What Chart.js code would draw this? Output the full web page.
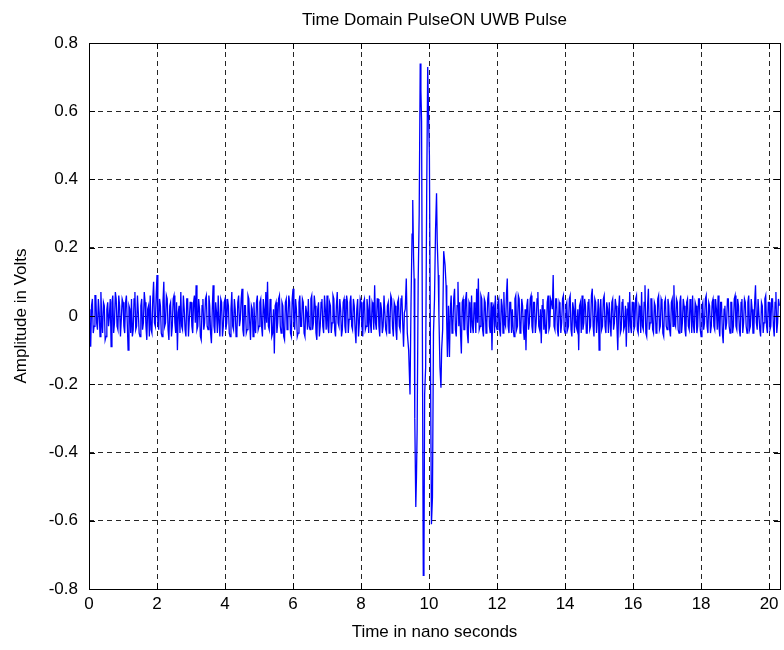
<!DOCTYPE html>
<html>
<head>
<meta charset="utf-8">
<script src="https://cdn.jsdelivr.net/npm/chart.js@4.4.1/dist/chart.umd.min.js"></script>
<style>
  html, body { margin: 0; padding: 0; background: #fff; }
  #wrap { width: 784px; height: 650px; }
</style>
</head>
<body>
<div id="wrap"><canvas id="pulse-chart" width="784" height="650"></canvas></div>
<script>
// sample spacing of the noise records (ns)
const sampleStep = 0.025;

// noise before the pulse, t = 0 .. 9.275 ns
const noiseBefore = [
  0.02, -0.04, -0.09, 0.03, 0.05, -0.05, -0.03, 0.06, 0.06, -0.02, -0.04, 0.05, 0.01, -0.06, 0.07, -0.01, -0.05, 0.04, 0.03, -0.07,
  -0.06, 0.02, 0.04, -0.03, 0.00, 0.05, -0.09, 0.04, 0.06, -0.05, -0.02, 0.07, 0.05, -0.03, -0.04, 0.06, 0.03, -0.06, -0.01, 0.05,
  0.04, -0.03, -0.05, 0.04, 0.06, -0.02, -0.10, 0.03, 0.02, -0.05, 0.05, -0.06, -0.04, 0.05, 0.07, -0.04, -0.03, 0.06, 0.01, -0.05,
  -0.06, 0.03, 0.05, -0.04, -0.02, 0.07, 0.04, -0.03, -0.07, 0.02, 0.03, -0.06, 0.06, -0.04, -0.05, 0.05, 0.10, -0.02, -0.03, 0.06,
  0.12, -0.02, -0.04, 0.05, 0.03, -0.05, -0.06, 0.04, 0.10, -0.03, -0.02, 0.06, 0.05, -0.04, -0.07, 0.03, 0.04, -0.06, -0.03, 0.05,
  0.06, -0.02, -0.05, 0.04, -0.10, 0.01, 0.03, -0.05, 0.07, -0.03, -0.04, 0.06, 0.02, -0.04, -0.06, 0.05, 0.05, -0.06, -0.01, 0.04,
  0.04, -0.03, -0.05, 0.04, 0.06, -0.02, 0.09, -0.04, -0.03, 0.05, 0.02, -0.06, -0.07, 0.03, 0.05, -0.04, -0.02, 0.05, 0.06, -0.03,
  -0.04, 0.06, 0.03, -0.05, -0.08, 0.02, 0.09, -0.03, -0.05, 0.04, 0.01, -0.05, 0.06, -0.02, -0.06, 0.05, 0.04, -0.06, -0.03, 0.04,
  0.05, -0.04, -0.02, 0.05, 0.03, -0.05, -0.06, 0.02, 0.07, -0.03, -0.04, 0.05, 0.02, -0.06, -0.05, 0.04, 0.06, -0.03, -0.01, 0.05,
  0.08, -0.04, -0.06, 0.03, 0.03, -0.05, -0.04, 0.06, 0.05, -0.02, -0.07, 0.03, 0.02, -0.06, 0.04, -0.03, -0.05, 0.04, 0.06, -0.04,
  -0.03, 0.04, 0.05, -0.03, -0.06, 0.05, 0.02, -0.04, 0.07, -0.02, 0.10, -0.03, -0.04, 0.05, 0.03, -0.06, -0.05, 0.02, -0.11, 0.03,
  0.04, -0.05, -0.02, 0.05, 0.06, -0.03, -0.05, 0.04, 0.03, -0.06, -0.07, 0.04, 0.05, -0.04, -0.01, 0.06, 0.04, -0.05, -0.06, 0.05,
  0.08, -0.02, -0.04, 0.05, 0.02, -0.06, -0.05, 0.04, 0.06, -0.03, -0.03, 0.05, 0.04, -0.05, -0.06, 0.03, 0.01, -0.04, 0.05, -0.03,
  -0.04, 0.05, 0.06, -0.04, -0.02, 0.06, 0.03, -0.05, -0.07, 0.02, 0.04, -0.06, -0.03, 0.04, 0.05, -0.03, -0.05, 0.06, 0.02, -0.04,
  0.06, -0.03, -0.05, 0.04, 0.03, -0.05, -0.02, 0.06, 0.05, -0.04, -0.06, 0.03, 0.07, -0.02, -0.03, 0.05, 0.02, -0.06, -0.04, 0.04,
  0.05, -0.03, -0.05, 0.06, 0.04, -0.05, -0.01, 0.04, 0.06, -0.03, -0.04, 0.05, 0.03, -0.04, -0.08, 0.02, 0.05, -0.06, -0.02, 0.05,
  0.04, -0.03, -0.06, 0.04, 0.05, -0.04, -0.03, 0.05, 0.02, -0.05, 0.06, -0.02, -0.05, 0.04, 0.03, -0.04, 0.09, -0.02, -0.04, 0.05,
  0.05, -0.03, -0.06, 0.04, 0.02, -0.05, -0.03, 0.06, 0.06, -0.04, -0.05, 0.03, 0.04, -0.05, -0.02, 0.06, 0.05, -0.03, -0.06, 0.04,
  0.03, -0.04, -0.07, 0.04, 0.05, -0.03, -0.04, 0.05, 0.06, -0.02, -0.09, 0.01
];

// the pulse itself, sampled where the trace turns
const pulseTimes = [
  9.30, 9.33, 9.36, 9.40, 9.44, 9.47, 9.50, 9.52, 9.545, 9.56, 9.58, 9.61, 9.63, 9.65, 9.68, 9.71, 9.74, 9.76, 9.78, 9.80,
  9.83, 9.85, 9.87, 9.90, 9.93, 9.96, 9.98, 10.01, 10.04, 10.07, 10.10, 10.13, 10.16, 10.19, 10.22, 10.24, 10.27, 10.29, 10.32, 10.35,
  10.37, 10.40, 10.43, 10.45, 10.47, 10.50, 10.52, 10.54, 10.57, 10.60
];
const pulseValues = [
  0.02, 0.11, -0.05, -0.10, -0.23, 0.04, 0.24, 0.34, 0.17, 0.11, -0.30, -0.56, -0.47, -0.33, 0.10, 0.30, 0.74, 0.66, 0.57, 0.05,
  -0.76, -0.72, -0.23, -0.15, 0.35, 0.73, 0.62, 0.47, -0.10, -0.61, -0.53, -0.05, 0.05, 0.25, 0.36, 0.22, 0.12, 0.00, -0.15, -0.21,
  -0.10, -0.04, 0.19, 0.17, 0.15, 0.09, -0.02, -0.12, 0.03, -0.12
];

// noise after the pulse, t = 10.625 .. 20.30 ns
const afterStart = 10.625;
const noiseAfter = [
  0.02, 0.06, -0.05, -0.03, 0.05, 0.08, -0.04, -0.06, 0.03, 0.10, -0.03, 0.04, -0.05, -0.11, 0.04,
  0.05, -0.04, -0.04, 0.05, 0.07, -0.05, -0.08, 0.04, 0.03, -0.05, 0.06, -0.03, -0.05, 0.04, 0.02, -0.05, 0.08, -0.02, 0.11, -0.04,
  -0.03, 0.06, 0.05, -0.04, -0.06, 0.05, 0.04, -0.05, -0.02, 0.05, 0.07, -0.03, -0.05, 0.04, -0.10, 0.02, 0.03, -0.05, 0.06, -0.03,
  -0.04, 0.04, 0.05, -0.04, -0.06, 0.05, 0.03, -0.05, 0.07, -0.02, -0.03, 0.06, 0.11, -0.03, -0.05, 0.04, 0.04, -0.05, 0.02, -0.04,
  -0.06, 0.05, 0.06, -0.04, -0.03, 0.06, 0.05, -0.05, -0.04, 0.05, 0.03, -0.04, -0.07, 0.02, -0.10, 0.03, 0.05, -0.04, -0.02, 0.05,
  0.06, -0.03, -0.05, 0.04, 0.04, -0.05, -0.02, 0.05, 0.07, -0.03, -0.04, 0.02, -0.08, 0.03, 0.05, -0.04, 0.02, -0.05, -0.05, 0.04,
  0.06, -0.04, -0.03, 0.05, 0.04, 0.02, 0.12, -0.03, -0.04, 0.05, 0.05, -0.04, -0.06, 0.04, 0.03, -0.05, -0.02, 0.05, 0.06, -0.04,
  -0.05, 0.03, 0.04, -0.04, -0.03, 0.05, 0.06, -0.04, -0.06, 0.04, 0.02, -0.05, 0.05, -0.03, -0.04, 0.02, -0.10, 0.03, 0.04, -0.05,
  0.06, -0.04, -0.02, 0.05, 0.03, -0.05, -0.05, 0.04, 0.05, -0.04, -0.03, 0.06, 0.08, -0.03, -0.06, 0.05, 0.04, -0.05, -0.01, 0.05,
  -0.10, 0.02, 0.05, -0.04, -0.03, 0.05, 0.06, -0.03, -0.05, 0.04, 0.02, -0.05, 0.04, -0.02, -0.06, 0.04, 0.05, -0.04, -0.02, 0.05,
  0.03, -0.03, -0.10, 0.02, 0.06, -0.05, -0.04, 0.04, 0.05, -0.04, -0.03, 0.03, -0.09, 0.02, 0.04, -0.05, 0.07, -0.03, -0.05, 0.04,
  0.04, -0.04, -0.03, 0.05, 0.06, -0.04, -0.05, 0.03, 0.02, -0.05, 0.07, -0.03, -0.04, 0.04, 0.09, -0.05, -0.06, 0.03, 0.08, -0.04,
  -0.02, 0.05, 0.05, -0.04, -0.05, 0.04, 0.03, -0.05, -0.04, 0.05, 0.06, -0.04, -0.03, 0.05, 0.04, -0.05, -0.06, 0.04, 0.05, -0.03,
  -0.04, 0.05, 0.03, -0.04, -0.06, 0.04, 0.05, -0.03, 0.09, -0.02, -0.03, 0.05, 0.04, -0.04, -0.05, 0.04, 0.06, -0.05, -0.02, 0.05,
  0.03, -0.04, -0.06, 0.04, 0.05, -0.03, -0.04, 0.05, 0.02, -0.05, 0.06, -0.03, -0.05, 0.04, 0.03, -0.05, -0.03, 0.05, 0.05, -0.04,
  -0.06, 0.03, 0.04, -0.04, -0.02, 0.05, 0.06, -0.03, -0.05, 0.04, 0.03, -0.05, -0.03, 0.04, 0.05, -0.03, -0.04, 0.05, 0.02, -0.04,
  0.06, -0.03, -0.06, 0.04, 0.04, -0.05, -0.08, 0.02, 0.03, -0.04, -0.02, 0.05, 0.05, -0.03, -0.05, 0.04, 0.04, -0.05, -0.03, 0.05,
  0.06, -0.03, -0.04, 0.05, 0.03, -0.04, -0.06, 0.04, 0.05, -0.05, -0.02, 0.05, 0.04, -0.03, -0.05, 0.04, 0.06, -0.04, -0.03, 0.05,
  0.02, -0.05, -0.05, 0.04, 0.09, -0.02, -0.04, 0.05, 0.05, -0.04, -0.06, 0.04, 0.03, -0.05, -0.02, 0.05, 0.06, -0.03, -0.05, 0.04,
  0.04, -0.04, -0.03, 0.05, 0.05, -0.03, -0.06, 0.04, 0.07, -0.05, -0.02, 0.05, 0.03
];

const xMax = 20.32;
const xTicks = [0, 2, 4, 6, 8, 10, 12, 14, 16, 18, 20];
const yTicks = [-0.8, -0.6, -0.4, -0.2, 0, 0.2, 0.4, 0.6, 0.8];
const chartTitle = 'Time Domain PulseON UWB Pulse';

const fontFamily = '"Liberation Sans", Arial, Helvetica, sans-serif';
const fontSize = 17;

// put the three pieces together as one trace
function buildTrace() {
  let points = [];
  noiseBefore.forEach(function (v, i) {
    points.push({ x: +(i * sampleStep).toFixed(3), y: v });
  });
  pulseTimes.forEach(function (t, i) {
    points.push({ x: t, y: pulseValues[i] });
  });
  noiseAfter.forEach(function (v, i) {
    points.push({ x: +(afterStart + i * sampleStep).toFixed(3), y: v });
  });
  return points;
}

// matlab style box with inward tick marks, title centred over the axes
const boxPlugin = {
  id: 'matlabBox',
  afterDraw(chart) {
    const ctx = chart.ctx;
    const a = chart.chartArea;
    const xs = chart.scales.x;
    const ys = chart.scales.y;
    const len = 6;
    ctx.save();
    ctx.strokeStyle = '#000';
    ctx.lineWidth = 1;
    ctx.beginPath();
    xTicks.forEach(function (t) {
      const px = Math.round(xs.getPixelForValue(t)) + 0.5;
      ctx.moveTo(px, a.bottom);
      ctx.lineTo(px, a.bottom - len);
      ctx.moveTo(px, a.top);
      ctx.lineTo(px, a.top + len);
    });
    yTicks.forEach(function (t) {
      const py = Math.round(ys.getPixelForValue(t)) + 0.5;
      ctx.moveTo(a.left, py);
      ctx.lineTo(a.left + len, py);
      ctx.moveTo(a.right, py);
      ctx.lineTo(a.right - len, py);
    });
    ctx.stroke();
    ctx.strokeRect(Math.round(a.left) + 0.5, Math.round(a.top) + 0.5,
      Math.round(a.right - a.left), Math.round(a.bottom - a.top));

    ctx.fillStyle = '#000';
    ctx.font = fontSize + 'px ' + fontFamily;
    ctx.textAlign = 'center';
    ctx.textBaseline = 'middle';
    ctx.fillText(chartTitle, (a.left + a.right) / 2, 20);
    ctx.restore();
  }
};

function renderChart() {
  const ctx = document.getElementById('pulse-chart').getContext('2d');
  new Chart(ctx, {
    type: 'line',
    data: {
      datasets: [{
        label: 'PulseON',
        data: buildTrace(),
        borderColor: '#0000ff',
        borderWidth: 1.3,
        pointRadius: 0,
        fill: false,
        tension: 0
      }]
    },
    options: {
      responsive: false,
      animation: false,
      layout: { padding: { left: 0, right: 4, top: 43, bottom: 0 } },
      plugins: {
        legend: { display: false },
        tooltip: { enabled: false },
        title: { display: false }
      },
      scales: {
        x: {
          type: 'linear',
          min: 0,
          max: xMax,
          afterFit: function (scale) { scale.height = 61; },
          afterBuildTicks: function (scale) {
            scale.ticks = xTicks.map(function (v) { return { value: v }; });
          },
          ticks: {
            color: '#000',
            font: { family: fontFamily, size: fontSize },
            padding: 5,
            maxRotation: 0,
            includeBounds: false
          },
          grid: { color: 'rgba(0,0,0,0.85)', lineWidth: 1, drawTicks: false },
          border: { display: false, dash: [5, 4] },
          title: {
            display: true,
            text: 'Time in nano seconds',
            color: '#000',
            font: { family: fontFamily, size: fontSize },
            padding: 7
          }
        },
        y: {
          type: 'linear',
          min: -0.8,
          max: 0.8,
          afterFit: function (scale) { scale.width = 89; },
          afterBuildTicks: function (scale) {
            scale.ticks = yTicks.map(function (v) { return { value: v }; });
          },
          ticks: {
            color: '#000',
            font: { family: fontFamily, size: fontSize },
            padding: 11,
            callback: function (v) { return Math.abs(v) < 1e-9 ? '0' : String(+v.toFixed(1)); }
          },
          grid: { color: 'rgba(0,0,0,0.85)', lineWidth: 1, drawTicks: false },
          border: { display: false, dash: [5, 4] },
          title: {
            display: true,
            text: 'Amplitude in Volts',
            color: '#000',
            font: { family: fontFamily, size: fontSize },
            padding: 11
          }
        }
      }
    },
    plugins: [boxPlugin]
  });
}

renderChart();
</script>
</body>
</html>
